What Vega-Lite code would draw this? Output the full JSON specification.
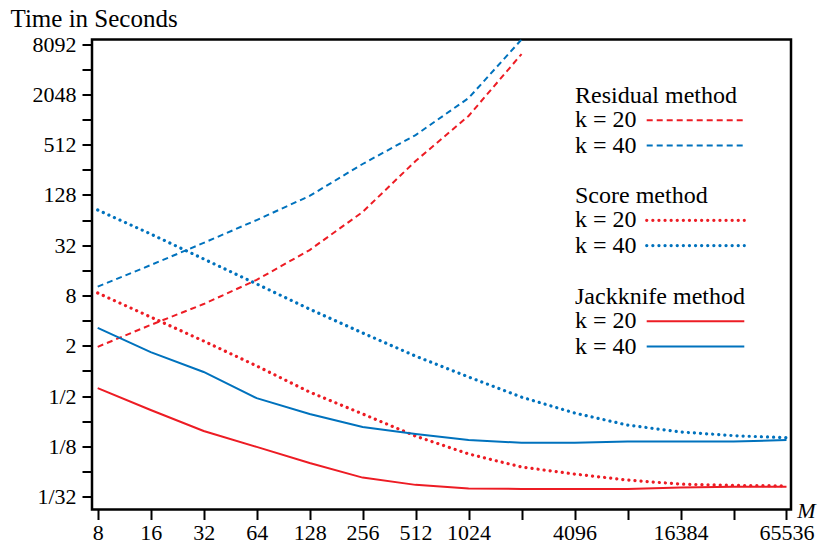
{
  "$schema": "https://vega.github.io/schema/vega-lite/v6.json",
  "width": 699,
  "height": 470,
  "autosize": "none",
  "padding": {"left": 92, "top": 39.5, "right": 30, "bottom": 34.5},
  "background": "white",
  "config": {
    "view": {"stroke": "black", "strokeWidth": 2.5},
    "font": "Liberation Serif, Times New Roman, DejaVu Serif, serif",
    "axis": {
      "domain": false, "grid": false, "tickColor": "black", "tickWidth": 2, "tickSize": 10,
      "labelFont": "Liberation Serif, Times New Roman, DejaVu Serif, serif", "labelFontSize": 22, "labelColor": "black",
      "titleFont": "Liberation Serif, Times New Roman, DejaVu Serif, serif", "titleFontWeight": "normal", "titleColor": "black",
      "labelOverlap": false, "labelFlush": false, "labelBound": false
    },
    "legend": {
      "titleFont": "Liberation Serif, Times New Roman, DejaVu Serif, serif", "titleFontSize": 24, "titleFontWeight": "normal", "titleColor": "black",
      "labelFont": "Liberation Serif, Times New Roman, DejaVu Serif, serif", "labelFontSize": 24, "labelColor": "black",
      "padding": 0, "titlePadding": 0, "rowPadding": 1.3, "orient": "none"
    }
  },
  "data": {
    "values": [
      {"method": "Residual", "k": "k = 20", "M": 8, "t": 1.945},
      {"method": "Residual", "k": "k = 20", "M": 16, "t": 3.555},
      {"method": "Residual", "k": "k = 20", "M": 32, "t": 6.32},
      {"method": "Residual", "k": "k = 20", "M": 64, "t": 12.3},
      {"method": "Residual", "k": "k = 20", "M": 128, "t": 28},
      {"method": "Residual", "k": "k = 20", "M": 256, "t": 79.9},
      {"method": "Residual", "k": "k = 20", "M": 512, "t": 326},
      {"method": "Residual", "k": "k = 20", "M": 1024, "t": 1128},
      {"method": "Residual", "k": "k = 20", "M": 2048, "t": 6208},
      {"method": "Residual", "k": "k = 40", "M": 8, "t": 10.2},
      {"method": "Residual", "k": "k = 40", "M": 16, "t": 18.5},
      {"method": "Residual", "k": "k = 40", "M": 32, "t": 34.1},
      {"method": "Residual", "k": "k = 40", "M": 64, "t": 64},
      {"method": "Residual", "k": "k = 40", "M": 128, "t": 124.5},
      {"method": "Residual", "k": "k = 40", "M": 256, "t": 300},
      {"method": "Residual", "k": "k = 40", "M": 512, "t": 666},
      {"method": "Residual", "k": "k = 40", "M": 1024, "t": 1846},
      {"method": "Residual", "k": "k = 40", "M": 2048, "t": 9280},
      {"method": "Score", "k": "k = 20", "M": 8, "t": 8.57},
      {"method": "Score", "k": "k = 20", "M": 16, "t": 4.42},
      {"method": "Score", "k": "k = 20", "M": 32, "t": 2.28},
      {"method": "Score", "k": "k = 20", "M": 64, "t": 1.149},
      {"method": "Score", "k": "k = 20", "M": 128, "t": 0.559},
      {"method": "Score", "k": "k = 20", "M": 256, "t": 0.306},
      {"method": "Score", "k": "k = 20", "M": 512, "t": 0.166},
      {"method": "Score", "k": "k = 20", "M": 1024, "t": 0.1015},
      {"method": "Score", "k": "k = 20", "M": 2048, "t": 0.0708},
      {"method": "Score", "k": "k = 20", "M": 4096, "t": 0.0583},
      {"method": "Score", "k": "k = 20", "M": 8192, "t": 0.0494},
      {"method": "Score", "k": "k = 20", "M": 16384, "t": 0.0442},
      {"method": "Score", "k": "k = 20", "M": 32768, "t": 0.0427},
      {"method": "Score", "k": "k = 20", "M": 65536, "t": 0.0421},
      {"method": "Score", "k": "k = 40", "M": 8, "t": 84.4},
      {"method": "Score", "k": "k = 40", "M": 16, "t": 43.6},
      {"method": "Score", "k": "k = 40", "M": 32, "t": 21.9},
      {"method": "Score", "k": "k = 40", "M": 64, "t": 11.0},
      {"method": "Score", "k": "k = 40", "M": 128, "t": 5.5},
      {"method": "Score", "k": "k = 40", "M": 256, "t": 2.85},
      {"method": "Score", "k": "k = 40", "M": 512, "t": 1.505},
      {"method": "Score", "k": "k = 40", "M": 1024, "t": 0.847},
      {"method": "Score", "k": "k = 40", "M": 2048, "t": 0.486},
      {"method": "Score", "k": "k = 40", "M": 4096, "t": 0.314},
      {"method": "Score", "k": "k = 40", "M": 8192, "t": 0.225},
      {"method": "Score", "k": "k = 40", "M": 16384, "t": 0.186},
      {"method": "Score", "k": "k = 40", "M": 32768, "t": 0.168},
      {"method": "Score", "k": "k = 40", "M": 65536, "t": 0.159},
      {"method": "Jackknife", "k": "k = 20", "M": 8, "t": 0.624},
      {"method": "Jackknife", "k": "k = 20", "M": 16, "t": 0.341},
      {"method": "Jackknife", "k": "k = 20", "M": 32, "t": 0.191},
      {"method": "Jackknife", "k": "k = 20", "M": 64, "t": 0.1233},
      {"method": "Jackknife", "k": "k = 20", "M": 128, "t": 0.079},
      {"method": "Jackknife", "k": "k = 20", "M": 256, "t": 0.0529},
      {"method": "Jackknife", "k": "k = 20", "M": 512, "t": 0.0433},
      {"method": "Jackknife", "k": "k = 20", "M": 1024, "t": 0.0393},
      {"method": "Jackknife", "k": "k = 20", "M": 2048, "t": 0.0387},
      {"method": "Jackknife", "k": "k = 20", "M": 4096, "t": 0.0387},
      {"method": "Jackknife", "k": "k = 20", "M": 8192, "t": 0.0387},
      {"method": "Jackknife", "k": "k = 20", "M": 16384, "t": 0.0404},
      {"method": "Jackknife", "k": "k = 20", "M": 32768, "t": 0.041},
      {"method": "Jackknife", "k": "k = 20", "M": 65536, "t": 0.0412},
      {"method": "Jackknife", "k": "k = 40", "M": 8, "t": 3.27},
      {"method": "Jackknife", "k": "k = 40", "M": 16, "t": 1.68},
      {"method": "Jackknife", "k": "k = 40", "M": 32, "t": 0.973},
      {"method": "Jackknife", "k": "k = 40", "M": 64, "t": 0.473},
      {"method": "Jackknife", "k": "k = 40", "M": 128, "t": 0.306},
      {"method": "Jackknife", "k": "k = 40", "M": 256, "t": 0.213},
      {"method": "Jackknife", "k": "k = 40", "M": 512, "t": 0.176},
      {"method": "Jackknife", "k": "k = 40", "M": 1024, "t": 0.149},
      {"method": "Jackknife", "k": "k = 40", "M": 2048, "t": 0.138},
      {"method": "Jackknife", "k": "k = 40", "M": 4096, "t": 0.138},
      {"method": "Jackknife", "k": "k = 40", "M": 8192, "t": 0.143},
      {"method": "Jackknife", "k": "k = 40", "M": 16384, "t": 0.143},
      {"method": "Jackknife", "k": "k = 40", "M": 32768, "t": 0.143},
      {"method": "Jackknife", "k": "k = 40", "M": 65536, "t": 0.149}
    ]
  },
  "encoding": {
    "x": {
      "field": "M", "type": "quantitative",
      "scale": {"type": "log", "base": 2, "domain": [7.426, 69514], "nice": false, "zero": false},
      "axis": {
        "title": "M", "titleFontStyle": "italic", "titleFontSize": 22,
        "titleAngle": 0, "titleAlign": "center", "titleBaseline": "alphabetic",
        "titleX": 714, "titleY": 7.5, "labelPadding": 3,
        "values": [8, 16, 32, 64, 128, 256, 512, 1024, 2048, 4096, 8192, 16384, 32768, 65536],
        "labelExpr": "(datum.value == 2048 || datum.value == 8192 || datum.value == 32768) ? '' : format(datum.value, 'd')"
      }
    },
    "y": {
      "field": "t", "type": "quantitative",
      "scale": {"type": "log", "base": 2, "domain": [0.02196, 9274], "nice": false, "zero": false},
      "axis": {
        "title": "Time in Seconds", "titleFontSize": 25, "titleAngle": 0,
        "titleAlign": "left", "titleBaseline": "alphabetic", "titleX": -82, "titleY": -13.5,
        "labelPadding": 6,
        "values": [0.03125, 0.0625, 0.125, 0.25, 0.5, 1, 2, 4, 8, 16, 32, 64, 128, 256, 512, 1024, 2048, 4096, 8192],
        "labelExpr": "(round(log(datum.value)/LN2) % 2 == 0) ? '' : datum.value == 8192 ? '8092' : datum.value >= 1 ? format(datum.value, 'd') : '1/' + format(1/datum.value, 'd')"
      }
    }
  },
  "layer": [
    {
      "transform": [{"filter": "datum.method == 'Residual'"}],
      "mark": {"type": "line", "strokeWidth": 2, "strokeDash": [6, 4], "clip": true},
      "encoding": {
        "color": {
          "field": "k", "type": "nominal",
          "scale": {"domain": ["k = 20", "k = 40"], "range": ["#ed1c24", "#0072bd"]},
          "legend": {
            "title": "Residual method", "legendX": 483, "legendY": 44.8,
            "symbolType": "M11.94,0H31.46", "symbolSize": 100, "symbolStrokeWidth": 2,
            "symbolStrokeDash": [6, 4], "symbolOffset": 0, "labelOffset": -24,
            "encode": {"symbols": {"update": {"strokeDash": {"value": [6, 4]}}}}
          }
        }
      }
    },
    {
      "transform": [{"filter": "datum.method == 'Score'"}],
      "mark": {"type": "line", "strokeWidth": 3.2, "strokeDash": [0.1, 6], "strokeCap": "round", "clip": true},
      "encoding": {
        "color": {
          "field": "k", "type": "nominal",
          "scale": {"domain": ["k = 20", "k = 40"], "range": ["#ed1c24", "#0072bd"]},
          "legend": {
            "title": "Score method", "legendX": 483, "legendY": 144.8,
            "symbolType": "M11.94,0H31.46", "symbolSize": 100, "symbolStrokeWidth": 3.2,
            "symbolStrokeDash": [0.1, 6], "symbolOffset": 0, "labelOffset": -24,
            "encode": {"symbols": {"update": {"strokeCap": {"value": "round"}, "strokeDash": {"value": [0.1, 6]}}}}
          }
        }
      }
    },
    {
      "transform": [{"filter": "datum.method == 'Jackknife'"}],
      "mark": {"type": "line", "strokeWidth": 2, "clip": true},
      "encoding": {
        "color": {
          "field": "k", "type": "nominal",
          "scale": {"domain": ["k = 20", "k = 40"], "range": ["#ed1c24", "#0072bd"]},
          "legend": {
            "title": "Jackknife method", "legendX": 483, "legendY": 245.8,
            "symbolType": "M11.94,0H31.46", "symbolSize": 100, "symbolStrokeWidth": 2,
            "symbolOffset": 0, "labelOffset": -24
          }
        }
      }
    }
  ],
  "resolve": {"scale": {"color": "independent"}, "legend": {"color": "independent"}}
}
